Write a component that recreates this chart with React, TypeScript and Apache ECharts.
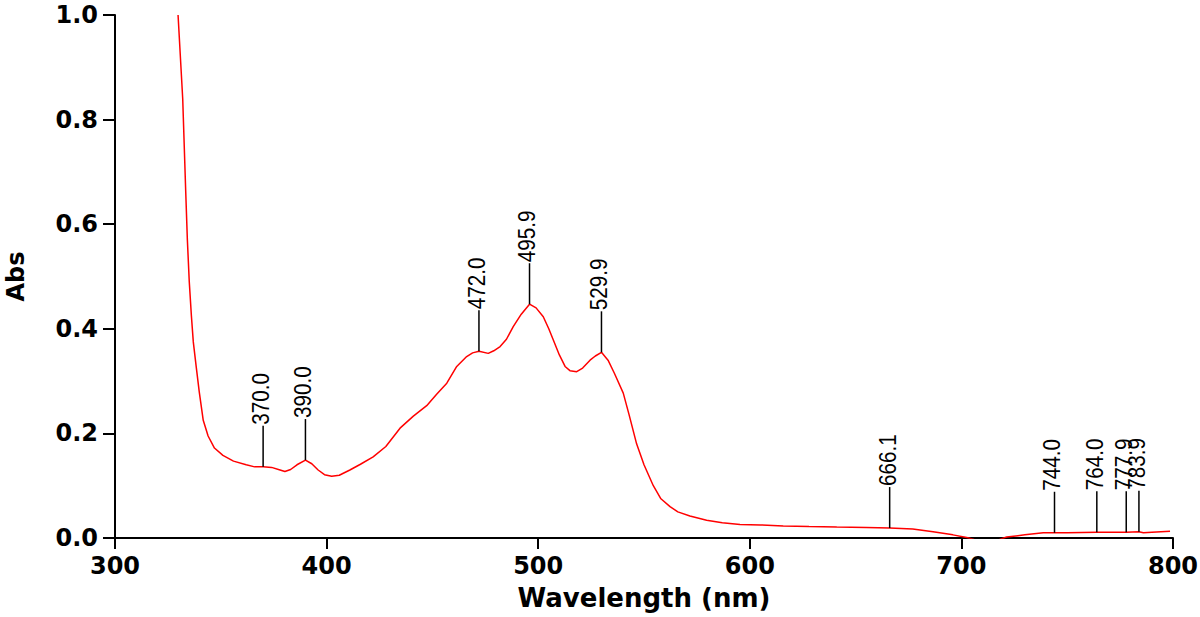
import React, { useEffect, useRef } from "react";
import * as echarts from "echarts";

const wavelengths = [
  329.8, 332.0, 332.6, 333.4, 334.2, 335.1, 336.1, 337.0, 338.3, 339.8, 341.7, 344, 347, 351, 356, 362, 366, 370, 374, 378,
  380.3, 383, 386, 390, 393, 396, 399, 402.4, 406, 411, 416, 422, 428, 434.7, 441, 447.3, 452, 456.8, 461.5, 466.2,
  469, 472, 476.4, 479, 482, 485, 488.2, 492, 495.9, 499, 502.4, 505, 507.1, 510, 512.7, 515, 518.2, 521, 524.5, 527,
  529.9, 533, 536, 540.2, 543, 546.5, 550, 554.4, 558, 562.3, 566, 571.7, 579.6, 587, 595.4, 605, 615.8, 628, 641.1, 655,
  666.1, 677, 686.6, 696, 702.5, 706, 712, 718, 721.4, 730, 738.7, 750, 764, 777.9, 783.9, 786, 790, 798.6,
];
const absorbance = [
  1.0, 0.84, 0.765, 0.665, 0.57, 0.49, 0.425, 0.375, 0.33, 0.28, 0.225, 0.195, 0.172, 0.158, 0.147, 0.14, 0.136, 0.136, 0.135, 0.13,
  0.127, 0.131, 0.14, 0.149, 0.142, 0.13, 0.121, 0.118, 0.12, 0.13, 0.141, 0.155, 0.175, 0.21, 0.233, 0.253, 0.275, 0.296, 0.328, 0.347,
  0.354, 0.357, 0.353, 0.358, 0.366, 0.38, 0.404, 0.428, 0.447, 0.44, 0.423, 0.4, 0.379, 0.35, 0.328, 0.32, 0.318, 0.325, 0.34, 0.348,
  0.355, 0.34, 0.315, 0.277, 0.235, 0.18, 0.14, 0.1, 0.075, 0.06, 0.05, 0.042, 0.034, 0.029, 0.026, 0.025, 0.023, 0.022, 0.021, 0.02,
  0.019, 0.017, 0.012, 0.006, 0.001, -0.003, -0.005, -0.003, 0.002, 0.006, 0.01, 0.01, 0.011, 0.011, 0.012, 0.01, 0.011, 0.013,
];

const peakWavelengths = [370.0, 390.0, 472.0, 495.9, 529.9, 666.1, 744.0, 764.0, 777.9, 783.9];
const peakAbsorbance = [0.136, 0.149, 0.357, 0.447, 0.355, 0.019, 0.01, 0.011, 0.011, 0.012];
const peakLabels = ["370.0", "390.0", "472.0", "495.9", "529.9", "666.1", "744.0", "764.0", "777.9", "783.9"];

const xTicks = { min: 300, max: 800, interval: 100 };
const yTicks = { min: 0, max: 1, interval: 0.2 };

export default function App() {
  const ref = useRef<HTMLDivElement>(null);
  useEffect(() => {
    if (!ref.current) return;
    const chart = echarts.init(ref.current, null, { renderer: "svg" });
    const boldFont = "DejaVu Sans";
    chart.setOption({
      animation: false,
      backgroundColor: "#ffffff",
      grid: { left: 115, right: 27, top: 15, bottom: 79, containLabel: false, outerBoundsMode: "none" },
      xAxis: {
        type: "value",
        min: xTicks.min,
        max: xTicks.max,
        interval: xTicks.interval,
        name: "Wavelength (nm)",
        nameLocation: "middle",
        nameGap: 47,
        nameMoveOverlap: false,
        nameTextStyle: { fontFamily: boldFont, fontWeight: "bold", fontSize: 26, color: "#000" },
        axisLine: { lineStyle: { color: "#000", width: 2 } },
        axisTick: { inside: false, length: 11, lineStyle: { color: "#000", width: 2 } },
        axisLabel: { margin: 16, fontFamily: boldFont, fontWeight: "bold", fontSize: 24, color: "#000" },
        splitLine: { show: false },
      },
      yAxis: {
        type: "value",
        min: yTicks.min,
        max: yTicks.max,
        interval: yTicks.interval,
        name: "Abs",
        nameLocation: "middle",
        nameGap: 87,
        nameMoveOverlap: false,
        nameRotate: 90,
        nameTextStyle: { fontFamily: boldFont, fontWeight: "bold", fontSize: 24, color: "#000" },
        axisLine: { lineStyle: { color: "#000", width: 2 } },
        axisTick: { inside: false, length: 12, lineStyle: { color: "#000", width: 2 } },
        axisLabel: {
          margin: 17,
          fontFamily: boldFont,
          fontWeight: "bold",
          fontSize: 24,
          color: "#000",
          formatter: (v: number) => v.toFixed(1),
        },
        splitLine: { show: false },
      },
      series: [
        {
          type: "line",
          data: wavelengths.map((w, i) => [w, absorbance[i]]),
          showSymbol: false,
          symbol: "none",
          clip: true,
          lineStyle: { color: "#ff0000", width: 1.5 },
          z: 2,
        },
        {
          type: "custom",
          data: peakWavelengths.map((w, i) => [w, peakAbsorbance[i], i]),
          z: 3,
          clip: false,
          renderItem: (params: any, api: any) => {
            const p = api.coord([api.value(0), api.value(1)]);
            const idx = api.value(2);
            const top = p[1] - 41;
            return {
              type: "group",
              children: [
                {
                  type: "line",
                  shape: { x1: p[0], y1: p[1], x2: p[0], y2: top },
                  style: { stroke: "#000", lineWidth: 1.5 },
                },
                {
                  type: "text",
                  x: p[0] - 2,
                  y: top - 1,
                  rotation: Math.PI / 2,
                  scaleX: 0.9,
                  style: {
                    text: peakLabels[idx],
                    font: "23px 'Liberation Sans', Arial, sans-serif",
                    fill: "#000",
                    align: "left",
                    verticalAlign: "middle",
                  },
                },
              ],
            };
          },
        },
      ],
    });
    return () => chart.dispose();
  }, []);
  return (
    <div
      ref={ref}
      style={{ position: "fixed", left: 0, top: 0, width: 1200, height: 617, background: "#fff" }}
    />
  );
}
